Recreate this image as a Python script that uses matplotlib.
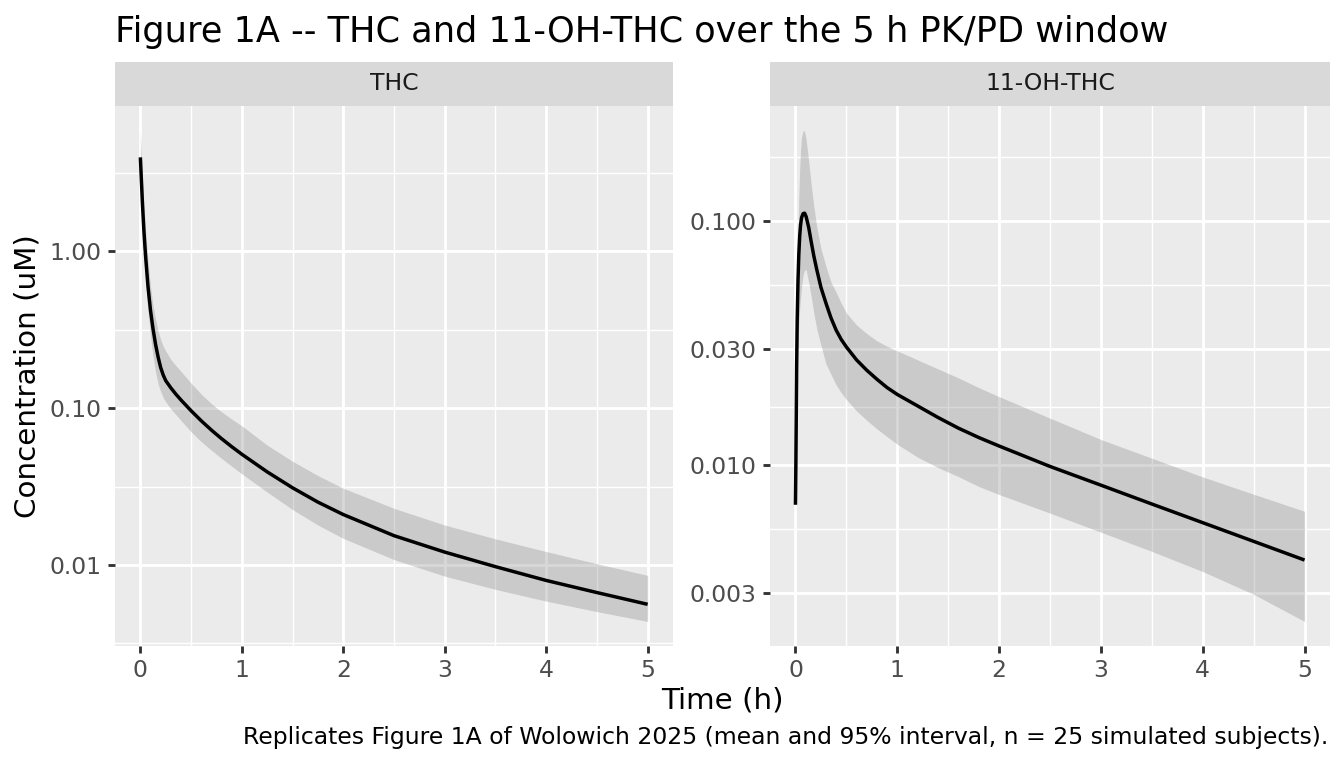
import numpy as np
import matplotlib
matplotlib.use('Agg')
import matplotlib.pyplot as plt
from matplotlib.ticker import NullFormatter

# --- valori (tempo in h, concentrazione in uM) ---
t_thc = [0, 0.01, 0.02, 0.035, 0.05, 0.075, 0.1, 0.125, 0.15, 0.175, 0.2, 0.225, 0.25,
         0.3, 0.35, 0.4, 0.5, 0.6, 0.7, 0.8, 0.9, 1.0, 1.25, 1.5, 1.75, 2.0, 2.5, 3.0,
         3.5, 4.0, 4.5, 5.0]
thc_media = [3.98, 2.85, 2.05, 1.35, 0.96, 0.60, 0.42, 0.32, 0.255, 0.212, 0.182, 0.163, 0.150,
             0.135, 0.123, 0.113, 0.0964, 0.0832, 0.0726, 0.0640, 0.0569, 0.0509, 0.0393,
             0.0311, 0.0252, 0.0210, 0.0154, 0.0121, 0.00977, 0.00798, 0.00668, 0.00562]
thc_alto = [5.9, 4.2, 3.0, 2.0, 1.4, 0.88, 0.60, 0.45, 0.37, 0.31, 0.275, 0.248, 0.232,
            0.205, 0.187, 0.172, 0.1445, 0.123, 0.107, 0.095, 0.0853, 0.0773, 0.0582,
            0.0459, 0.0372, 0.0309, 0.0230, 0.0180, 0.0147, 0.0122, 0.0102, 0.0086]
thc_basso = [3.0, 2.0, 1.42, 0.92, 0.66, 0.42, 0.29, 0.215, 0.17, 0.143, 0.128, 0.117, 0.110,
             0.099, 0.0912, 0.0836, 0.0708, 0.0612, 0.054, 0.0479, 0.0427, 0.0382, 0.0292,
             0.0226, 0.018, 0.0148, 0.01084, 0.0085, 0.0070, 0.00589, 0.00505, 0.00437]

t_oh = [0, 0.004, 0.008, 0.012, 0.017, 0.025, 0.033, 0.042, 0.05, 0.06, 0.075, 0.09, 0.105,
        0.13, 0.155, 0.18, 0.21, 0.25, 0.3, 0.35, 0.4, 0.45, 0.5, 0.6, 0.7, 0.8, 0.9, 1.0,
        1.2, 1.4, 1.6, 1.8, 2.0, 2.5, 3.0, 3.5, 4.0, 4.5, 5.0]
oh_media = [0.0069, 0.010, 0.016, 0.026, 0.039, 0.057, 0.073, 0.087, 0.096, 0.103, 0.107, 0.1075,
            0.104, 0.094, 0.082, 0.072, 0.063, 0.0535, 0.046, 0.0400, 0.0357, 0.0327, 0.0305,
            0.0270, 0.0245, 0.0225, 0.0208, 0.0195, 0.0175, 0.0157, 0.0142, 0.0130, 0.0120,
            0.0099, 0.0083, 0.00695, 0.00583, 0.00489, 0.0041]
oh_alto = [0.0075, 0.011, 0.020, 0.032, 0.050, 0.085, 0.125, 0.165, 0.195, 0.220, 0.234, 0.232,
           0.215, 0.175, 0.140, 0.115, 0.094, 0.077, 0.065, 0.056, 0.051, 0.046, 0.042,
           0.0375, 0.0346, 0.0323, 0.0307, 0.0294, 0.0270, 0.0248, 0.0228, 0.0208, 0.0191,
           0.0156, 0.01276, 0.0107, 0.00897, 0.00762, 0.00649]
oh_basso = [0.0069, 0.008, 0.011, 0.016, 0.022, 0.031, 0.038, 0.044, 0.048, 0.054, 0.060, 0.063,
            0.063, 0.056, 0.049, 0.042, 0.036, 0.031, 0.026, 0.0235, 0.0213, 0.0198, 0.0186,
            0.0167, 0.0153, 0.0141, 0.0131, 0.0122, 0.0108, 0.0098, 0.0090, 0.0082, 0.0076,
            0.00638, 0.00533, 0.00445, 0.00368, 0.00297, 0.0023]

pannelli = ['THC', '11-OH-THC']
tick_thc = [0.01, 0.1, 1.0]
etich_thc = ['0.01', '0.10', '1.00']
tick_oh = [0.003, 0.01, 0.03, 0.1]
etich_oh = ['0.003', '0.010', '0.030', '0.100']
tick_x = [0, 1, 2, 3, 4, 5]

TITOLO = 'Figure 1A -- THC and 11-OH-THC over the 5 h PK/PD window'
DIDASCALIA = 'Replicates Figure 1A of Wolowich 2025 (mean and 95% interval, n = 25 simulated subjects).'


def minori_log(major, lim):
    # come regular_minor_breaks di ggplot, in spazio log10
    b = list(np.log10(major))
    bd = b[1] - b[0]
    lo, hi = np.log10(lim)
    if lo < b[0]:
        b = [b[0] - bd] + b
    if hi > b[-1]:
        b = b + [b[-1] + bd]
    mid = [(a + c) / 2 for a, c in zip(b[:-1], b[1:])]
    return [10 ** m for m in mid if lo <= m <= hi]


def limiti_log(basso, alto):
    lo, hi = np.log10(min(basso)), np.log10(max(alto))
    pad = 0.05 * (hi - lo)
    return 10 ** (lo - pad), 10 ** (hi + pad)


fig = plt.figure(figsize=(7, 4), dpi=192)
fig.patch.set_facecolor('white')

W, H = 1344, 768
pos_x = [(115, 673), (770, 1330)]
top, bottom = 106, 646
strip_top = 62

dati = [
    (t_thc, thc_media, thc_alto, thc_basso, tick_thc, etich_thc),
    (t_oh, oh_media, oh_alto, oh_basso, tick_oh, etich_oh),
]

for (x0, x1), nome, (t, media, alto, basso, yt, yl) in zip(pos_x, pannelli, dati):
    ax = fig.add_axes([x0 / W, 1 - bottom / H, (x1 - x0) / W, (bottom - top) / H])
    ax.set_facecolor('#EBEBEB')
    ax.fill_between(t, basso, alto, color='#7F7F7F', alpha=0.3, linewidth=0, zorder=2)
    ax.plot(t, media, color='black', linewidth=1.3, zorder=3,
            solid_joinstyle='round', solid_capstyle='butt')
    ax.set_yscale('log')
    ax.set_xlim(-0.25, 5.25)
    lim = limiti_log(basso, alto)
    ax.set_ylim(*lim)
    ax.set_xticks(tick_x)
    ax.set_xticklabels([str(v) for v in tick_x])
    ax.set_xticks([0.5, 1.5, 2.5, 3.5, 4.5], minor=True)
    ax.set_yticks(yt)
    ax.set_yticklabels(yl)
    ax.set_yticks(minori_log(yt, lim), minor=True)
    ax.yaxis.set_minor_formatter(NullFormatter())
    ax.set_axisbelow(True)
    ax.grid(which='major', color='white', linewidth=1.07)
    ax.grid(which='minor', color='white', linewidth=0.53)
    ax.tick_params(which='major', length=2.75, width=1.07, color='#333333',
                   labelsize=8.8, labelcolor='#4D4D4D', pad=2.2)
    ax.tick_params(which='minor', length=0)
    for s in ax.spines.values():
        s.set_visible(False)

    # striscia del pannello
    st = fig.add_axes([x0 / W, 1 - top / H, (x1 - x0) / W, (top - strip_top) / H])
    st.set_facecolor('#D9D9D9')
    st.set_xticks([])
    st.set_yticks([])
    for s in st.spines.values():
        s.set_visible(False)
    st.text(0.5, 0.5, nome, ha='center', va='center', fontsize=8.8, color='#1A1A1A',
            transform=st.transAxes)

fig.text(115 / W, 1 - 42 / H, TITOLO, ha='left', va='baseline', fontsize=13.2, color='black')
fig.text(722 / W, 1 - 708 / H, 'Time (h)', ha='center', va='baseline', fontsize=11, color='black')
fig.text(28 / W, 1 - 376 / H, 'Concentration (uM)', ha='center', va='center', rotation=90,
         fontsize=11, color='black')
fig.text(1328 / W, 1 - 744 / H, DIDASCALIA, ha='right', va='baseline', fontsize=8.8, color='black')

fig.savefig('out.png', dpi=192)
